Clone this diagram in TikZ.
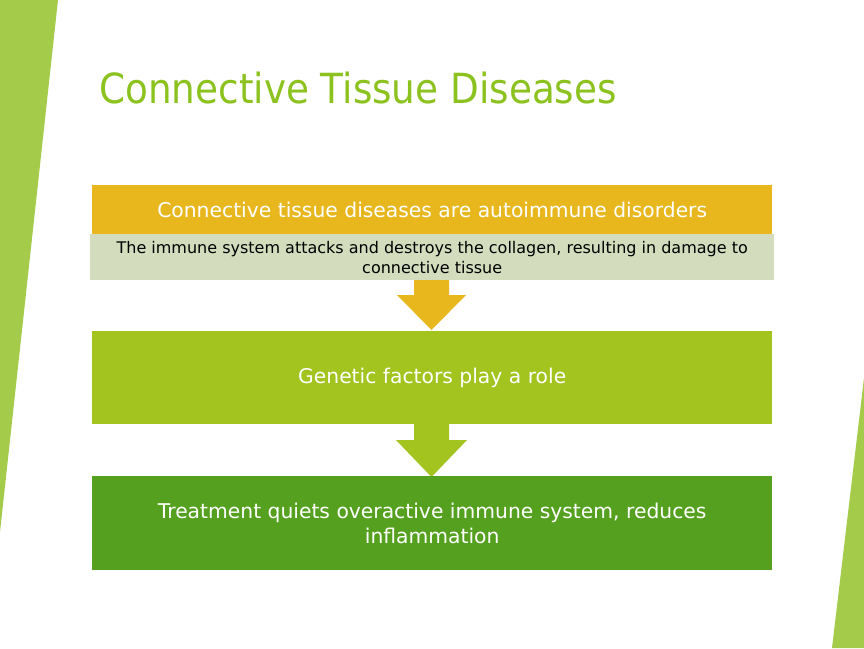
\documentclass[tikz,border=0pt]{standalone}
\usepackage{fontspec}
\setmainfont{DejaVu Sans}
\newfontfamily\titlefont{DejaVu Sans}[FakeStretch=0.9]
\definecolor{strip}{HTML}{A4CC4A}
\definecolor{titlec}{HTML}{8CC21E}
\definecolor{orangec}{HTML}{E8B71E}
\definecolor{paleg}{HTML}{D3DDBE}
\definecolor{midg}{HTML}{A3C31F}
\definecolor{darkg}{HTML}{55A11F}
\tikzset{
  box/.style={draw=none, minimum width=680pt, inner sep=0pt, align=center, anchor=north west},
  bigtext/.style={text=white, font=\fontsize{20.3}{25}\selectfont}
}
\begin{document}
\begin{tikzpicture}[x=1pt,y=-1pt]
\useasboundingbox (0,0) rectangle (864,648);
\fill[white] (0,0) rectangle (864,648);
% side strips
\fill[strip] (0,0) -- (58,0) -- (0,532) -- cycle;
\fill[strip] (864,378) -- (864,648) -- (832,648) -- cycle;
% title
\node[anchor=west, text=titlec, font=\titlefont\fontsize{41.5}{48}\selectfont, inner sep=0pt] (title) at (99,88) {Connective Tissue Diseases};
% box 1
\node[box, fill=orangec, minimum height=49pt, bigtext] (b1) at (92,185) {Connective tissue diseases are autoimmune disorders};
\node[box, fill=paleg, minimum width=684pt, minimum height=46pt, text=black, font=\fontsize{16}{20}\selectfont] (b1s) at (90,234) {The immune system attacks and destroys the collagen, resulting in damage to\\connective tissue};
% arrow 1
\fill[orangec] (414,280) -- (449,280) -- (449,295) -- (466,295) -- (431.5,330) -- (397,295) -- (414,295) -- cycle;
% box 2
\node[box, fill=midg, minimum height=93pt, bigtext] (b2) at (92,331) {Genetic factors play a role};
% arrow 2
\fill[midg] (414,424) -- (449,424) -- (449,440) -- (467,440) -- (431.5,477) -- (396,440) -- (414,440) -- cycle;
% box 3
\node[box, fill=darkg, minimum height=94pt, bigtext] (b3) at (92,476) {Treatment quiets overactive immune system, reduces\\inflammation};
\end{tikzpicture}
\end{document}
